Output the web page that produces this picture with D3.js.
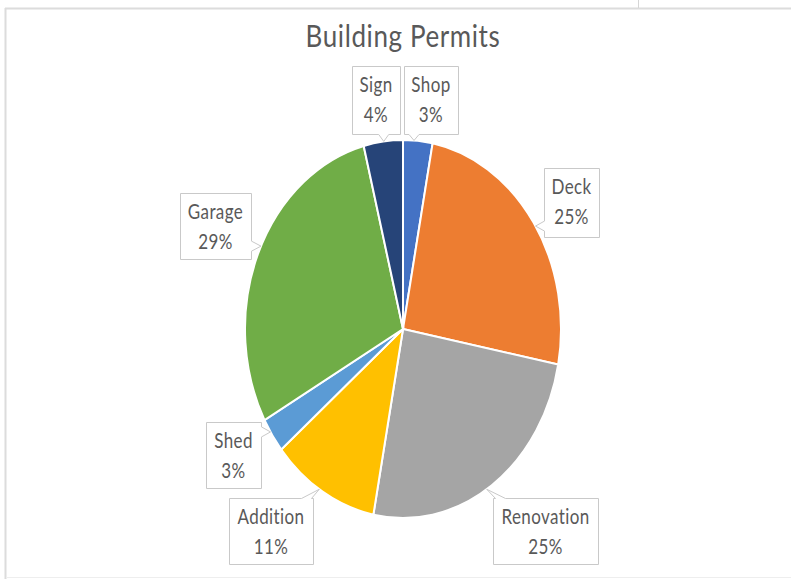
<!DOCTYPE html>
<html>
<head>
<meta charset="utf-8">
<script src="https://cdn.jsdelivr.net/npm/d3@7"></script>
<style>
  html, body { margin: 0; padding: 0; background: #fff; }
  svg { display: block; }
  text { font-family: Lato, "Open Sans", sans-serif; fill: #595959; }
</style>
</head>
<body>
<div id="chart"></div>
<script>
// permit categories, clockwise from 12 o'clock
const categories = ["Shop", "Deck", "Renovation", "Addition", "Shed", "Garage", "Sign"];
const percents = [3, 25, 25, 11, 3, 29, 4];
const colors = ["#4472C4", "#ED7D31", "#A5A5A5", "#FFC000", "#5B9BD5", "#70AD47", "#264478"];

// callout boxes (x, y, w, h) and the angle their pointer aims at on the pie rim
const callouts = {
    Shop:       { x: 404, y: 66,  w: 54,  h: 68, tip: 4 },
    Deck:       { x: 544, y: 168, w: 55,  h: 69, tip: 57 },
    Renovation: { x: 493, y: 498, w: 105, h: 66, tip: 148 },
    Addition:   { x: 229, y: 498, w: 84,  h: 66, tip: 212 },
    Shed:       { x: 206, y: 422, w: 55,  h: 66, tip: 237 },
    Garage:     { x: 180, y: 193, w: 71,  h: 66, tip: 296 },
    Sign:       { x: 352, y: 66,  w: 48,  h: 68, tip: 353 }
};

const width = 791, height = 579;
const cx = 403, cy = 329, rx = 158, ry = 189;
const sy = ry / rx; // the whole picture is stretched vertically

const svg = d3.select("#chart").append("svg")
    .attr("width", width)
    .attr("height", height);

// frame lines from the surrounding window
svg.append("line").attr("x1", 5).attr("x2", width).attr("y1", 8.5).attr("y2", 8.5)
    .attr("stroke", "#dcdcdc").attr("stroke-width", 2);
svg.append("line").attr("x1", 5.5).attr("x2", 5.5).attr("y1", 8).attr("y2", height)
    .attr("stroke", "#dcdcdc").attr("stroke-width", 2);
svg.append("line").attr("x1", 638.5).attr("x2", 638.5).attr("y1", 0).attr("y2", 8)
    .attr("stroke", "#d6d6d6").attr("stroke-width", 1);
svg.append("line").attr("x1", 6).attr("x2", width).attr("y1", 577.5).attr("y2", 577.5)
    .attr("stroke", "#eeeeee").attr("stroke-width", 1);

// title
svg.append("text")
    .attr("transform", `translate(${cx},47) scale(1,${sy})`)
    .attr("text-anchor", "middle")
    .attr("font-size", 26)
    .attr("letter-spacing", 0.6)
    .text("Building Permits");

// pie drawn as a circle and squashed into an ellipse
const data = categories.map((c, i) => ({ name: c, value: percents[i], color: colors[i] }));
const pie = d3.pie().sort(null).value(d => d.value);
const arc = d3.arc().innerRadius(0).outerRadius(rx);

const g = svg.append("g")
    .attr("transform", `translate(${cx},${cy}) scale(1,${sy})`);

g.selectAll("path")
    .data(pie(data))
    .enter()
    .append("path")
    .attr("d", arc)
    .attr("fill", d => d.data.color)
    .attr("stroke", "#fff")
    .attr("stroke-width", 2)
    .attr("vector-effect", "non-scaling-stroke");

// point on the ellipse rim for an angle in degrees (clockwise from top)
function rim(deg) {
    const a = deg * Math.PI / 180;
    return [cx + rx * Math.sin(a), cy - ry * Math.cos(a)];
}

function clamp(v, lo, hi) { return Math.max(lo, Math.min(hi, v)); }

// outline of a box with a wedge pointing at tip
function calloutPath(b, tip) {
    const x = b.x, y = b.y, x2 = b.x + b.w, y2 = b.y + b.h, n = 5;
    let side;
    if (tip[1] > y2) side = "bottom";
    else if (tip[1] < y) side = "top";
    else if (tip[0] < x) side = "left";
    else side = "right";

    const pts = [[x, y]];
    if (side === "top") {
        const c = clamp(tip[0], x + n + 2, x2 - n - 2);
        pts.push([c - n, y], tip, [c + n, y]);
    }
    pts.push([x2, y]);
    if (side === "right") {
        const c = clamp(tip[1], y + n + 2, y2 - n - 2);
        pts.push([x2, c - n], tip, [x2, c + n]);
    }
    pts.push([x2, y2]);
    if (side === "bottom") {
        const c = clamp(tip[0], x + n + 2, x2 - n - 2);
        pts.push([c + n, y2], tip, [c - n, y2]);
    }
    pts.push([x, y2]);
    if (side === "left") {
        const c = clamp(tip[1], y + n + 2, y2 - n - 2);
        pts.push([x, c + n], tip, [x, c - n]);
    }
    return "M" + pts.map(p => p[0] + "," + p[1]).join("L") + "Z";
}

const labels = svg.append("g")
    .selectAll("g")
    .data(data)
    .enter()
    .append("g");

labels.append("path")
    .attr("d", d => {
        const b = callouts[d.name];
        return calloutPath({ x: b.x + 0.5, y: b.y + 0.5, w: b.w, h: b.h }, rim(b.tip));
    })
    .attr("fill", "#fff")
    .attr("stroke", "#c9c9c9")
    .attr("stroke-width", 1);

labels.append("text")
    .attr("transform", d => {
        const b = callouts[d.name];
        return `translate(${b.x + b.w / 2},${b.y + 26}) scale(1,${sy})`;
    })
    .attr("text-anchor", "middle")
    .attr("font-size", 17)
    .attr("letter-spacing", 0.4)
    .text(d => d.name);

labels.append("text")
    .attr("transform", d => {
        const b = callouts[d.name];
        return `translate(${b.x + b.w / 2},${b.y + 56}) scale(1,${sy})`;
    })
    .attr("text-anchor", "middle")
    .attr("font-size", 17)
    .attr("letter-spacing", 0.4)
    .text(d => d.value + "%");
</script>
</body>
</html>
